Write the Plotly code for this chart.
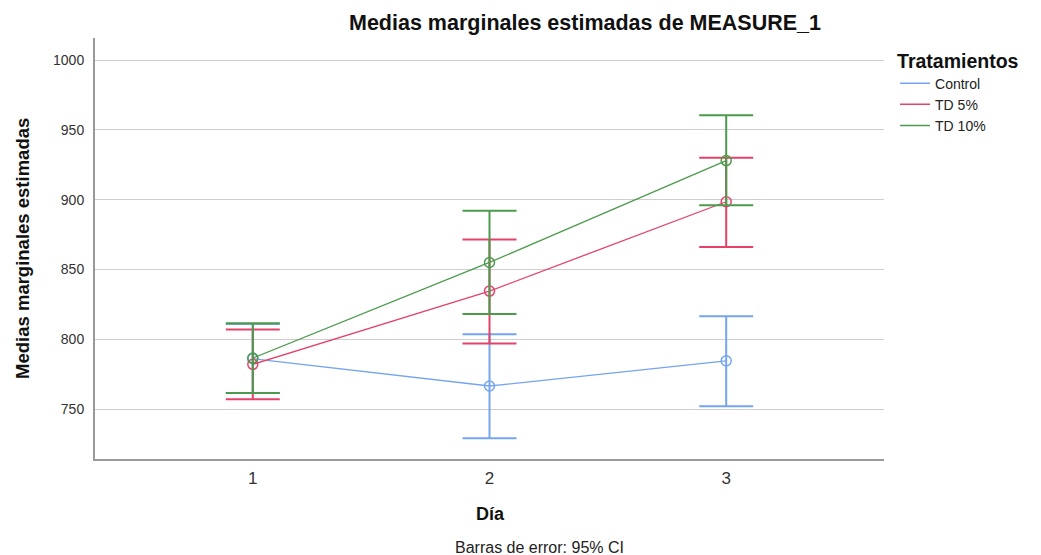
import plotly.graph_objects as go

# ---- data ----
dias = [1, 2, 3]
dia_labels = ["1", "2", "3"]
series_names = ["Control", "TD 5%", "TD 10%"]

control_mean = [786.0, 766.5, 784.5]
control_hi = [811.0, 803.5, 816.5]
control_lo = [761.5, 729.0, 752.0]

td5_mean = [782.0, 834.5, 898.5]
td5_hi = [807.0, 871.5, 930.0]
td5_lo = [757.0, 797.0, 866.0]

td10_mean = [786.5, 855.0, 928.0]
td10_hi = [811.5, 892.0, 960.5]
td10_lo = [761.5, 818.0, 896.0]

y_ticks = [750, 800, 850, 900, 950, 1000]

colors = ["#74a5ee", "#e5426a", "#4c9b4c"]
FONT = "Liberation Sans, Arial, sans-serif"

fig = go.Figure()

groups = [
    (control_mean, control_hi, control_lo),
    (td5_mean, td5_hi, td5_lo),
    (td10_mean, td10_hi, td10_lo),
]

for name, (m, hi, lo), c in zip(series_names, groups, colors):
    fig.add_trace(go.Scatter(
        x=dias, y=m, mode="lines+markers", name=name, showlegend=False,
        line=dict(color=c, width=1.3),
        marker=dict(symbol="circle-open", size=10, color=c, line=dict(width=1.5, color=c)),
        error_y=dict(type="data", symmetric=False,
                     array=[h - v for h, v in zip(hi, m)],
                     arrayminus=[v - l for v, l in zip(m, lo)],
                     color=c, thickness=2, width=27),
        hoverinfo="skip",
    ))

for name, c in zip(series_names, colors):
    fig.add_trace(go.Scatter(
        x=[None], y=[None], mode="lines", name=name,
        line=dict(color=c, width=1.5), showlegend=True,
    ))

fig.update_layout(
    width=1041, height=555,
    margin=dict(l=95, r=157, t=38, b=96),
    paper_bgcolor="white", plot_bgcolor="white",
    font=dict(family=FONT, color="#222222"),
    title=dict(text="<b>Medias marginales estimadas de MEASURE_1</b>",
               font=dict(family=FONT, size=21.5, color="#111111"),
               xref="container", x=585 / 1041, xanchor="center",
               yref="container", y=1 - 22 / 555, yanchor="middle"),
    legend=dict(
        title=dict(text="<b>Tratamientos</b>", font=dict(family=FONT, size=19.5, color="#111111")),
        font=dict(family=FONT, size=14, color="#222222"),
        x=1.014, xanchor="left", y=0.99, yanchor="top",
        bgcolor="rgba(0,0,0,0)", traceorder="normal",
        itemwidth=30, tracegroupgap=0,
    ),
    showlegend=True,
)

fig.update_xaxes(
    range=[1 - 2 / 3, 3 + 2 / 3],
    tickmode="array", tickvals=dias, ticktext=dia_labels,
    showgrid=False, zeroline=False,
    showline=True, linecolor="#9a9a9a", linewidth=2,
    ticks="", tickfont=dict(family=FONT, size=17, color="#333333"),
    ticklabelstandoff=3,
)
fig.update_yaxes(
    range=[714.2, 1015.8],
    tickmode="array", tickvals=y_ticks,
    showgrid=True, gridcolor="#cfcfcf", gridwidth=1,
    zeroline=False,
    showline=True, linecolor="#9a9a9a", linewidth=2,
    ticks="", tickfont=dict(family=FONT, size=14, color="#333333"),
    ticklabelstandoff=6,
)

fig.add_annotation(text="<b>Medias marginales estimadas</b>", xref="paper", yref="paper",
                   x=(23 - 95) / 789, y=0.499, xanchor="center", yanchor="middle",
                   textangle=-90, showarrow=False,
                   font=dict(family=FONT, size=18.5, color="#111111"))
fig.add_annotation(text="<b>Día</b>", xref="paper", yref="paper",
                   x=(490 - 95) / 789, y=(459 - 514) / 421, xanchor="center", yanchor="middle",
                   showarrow=False, font=dict(family=FONT, size=18, color="#111111"))
fig.add_annotation(text="Barras de error: 95% CI", xref="paper", yref="paper",
                   x=(539 - 95) / 789, y=(459 - 547) / 421, xanchor="center", yanchor="middle",
                   showarrow=False, font=dict(family=FONT, size=16, color="#222222"))

fig.write_html("out.html")
